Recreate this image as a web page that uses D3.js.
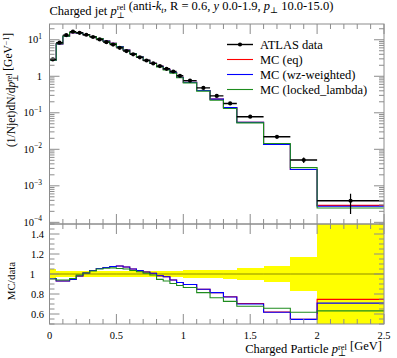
<!DOCTYPE html>
<html><head><meta charset="utf-8">
<script src="https://cdn.jsdelivr.net/npm/d3@7"></script>
<style>
body{margin:0;background:#fff;}
svg{display:block;font-family:"Liberation Serif","DejaVu Serif",serif;}
</style></head>
<body><svg id="c" width="397" height="358"></svg>
<script>
// ---- data ----
const binEdges = [0,0.05,0.1,0.15,0.2,0.25,0.3,0.35,0.4,0.45,0.5,0.55,0.6,0.65,0.7,0.75,0.8,0.85,0.9,0.95,1.0,1.1,1.2,1.3,1.4,1.6,1.8,2.0,2.5];
const dataVals = [2.9,8.3,13.4,16.6,15.5,13.7,11.9,10.2,8.6,7.4,6.0,4.9,4.0,3.3,2.7,2.25,1.9,1.6,1.35,1.03,0.76,0.48,0.29,0.18,0.078,0.022,0.0051,0.00039];
const dataErr  = [0.15,0.25,0.40,0.50,0.47,0.41,0.36,0.31,0.26,0.22,0.18,0.15,0.12,0.10,0.081,0.068,0.057,0.048,0.041,0.036,0.030,0.019,0.012,0.0081,0.0043,0.0018,0.00087,0.00022];
const ratioEq     = [0.955,0.93,0.93,0.945,0.98,1.01,1.035,1.055,1.065,1.075,1.08,1.07,1.05,1.034,1.02,1.007,0.983,0.973,0.94,0.915,0.895,0.848,0.814,0.772,0.705,0.62,0.548,0.746];
const ratioWz     = [0.955,0.93,0.93,0.945,0.98,1.01,1.035,1.055,1.065,1.075,1.08,1.07,1.05,1.034,1.02,1.007,0.983,0.973,0.94,0.915,0.895,0.848,0.814,0.77,0.70,0.617,0.546,0.709];
const ratioLocked = [0.95,0.94,0.94,0.955,0.99,1.01,1.03,1.05,1.057,1.061,1.055,1.05,1.035,1.023,1.007,0.99,0.946,0.93,0.905,0.885,0.865,0.814,0.763,0.726,0.678,0.658,0.617,0.631];
const series = [
  {name:"MC (eq)", ratio:ratioEq, color:"#ff0000"},
  {name:"MC (wz-weighted)", ratio:ratioWz, color:"#0000ff"},
  {name:"MC (locked_lambda)", ratio:ratioLocked, color:"#1e8c1e"}
];
const xTicksMajor = [0,0.5,1,1.5,2,2.5];
const xTickLabels = ["0","0.5","1","1.5","2","2.5"];
const ratioTicks = [0.6,0.8,1.0,1.2,1.4];
const ratioTickLabels = ["0.6","0.8","1","1.2","1.4"];
const logDecades = [-4,-3,-2,-1,0,1];

// ---- layout ----
const svg = d3.select("#c");
const L=49.5, R=384, T=24, M=224, B=324;
const x = d3.scaleLinear().domain([0,2.5]).range([L,R]);
const y = d3.scaleLog().domain([9e-5,27]).range([M,T]);
const yr = d3.scaleLinear().domain([0.5,1.5]).range([B,M]);
const frame="#8c8c8c";
const fs=10.5;

const defs=svg.append("defs");
defs.append("clipPath").attr("id","cm").append("rect").attr("x",L).attr("y",T).attr("width",R-L).attr("height",M-T);
defs.append("clipPath").attr("id","cr").append("rect").attr("x",L).attr("y",M).attr("width",R-L).attr("height",B-M);

const bins = dataVals.map((v,i)=>({x0:binEdges[i],x1:binEdges[i+1],v,e:dataErr[i],xc:(binEdges[i]+binEdges[i+1])/2}));

function stepPath(vals, ys){
  let p="";
  vals.forEach((v,i)=>{
    const X0=x(binEdges[i]), X1=x(binEdges[i+1]), Y=ys(v);
    p += (i===0? "M"+X0+","+Y : "L"+X0+","+Y) + "L"+X1+","+Y;
  });
  return p;
}

// ---- ratio panel ----
const gr = svg.append("g").attr("clip-path","url(#cr)");
gr.selectAll("rect.band").data(bins).join("rect")
  .attr("x",d=>x(d.x0)).attr("width",d=>x(d.x1)-x(d.x0))
  .attr("y",d=>yr(1+d.e/d.v)).attr("height",d=>yr(1-d.e/d.v)-yr(1+d.e/d.v))
  .attr("fill","#ffff00").attr("shape-rendering","crispEdges");
gr.selectAll("line.one").data(bins).join("line")
  .attr("x1",d=>x(d.x0)).attr("x2",d=>x(d.x1)).attr("y1",yr(1)).attr("y2",yr(1))
  .attr("stroke","#000").attr("stroke-opacity",0.45).attr("stroke-width",1);
series.forEach(s=>{
  gr.append("path").attr("d",stepPath(s.ratio,yr)).attr("fill","none")
    .attr("stroke",s.color).attr("stroke-width",1.1);
});

// ---- main panel ----
const gm = svg.append("g").attr("clip-path","url(#cm)");
series.forEach(s=>{
  const mc = dataVals.map((v,i)=>v*s.ratio[i]);
  gm.append("path").attr("d",stepPath(mc,y)).attr("fill","none")
    .attr("stroke",s.color).attr("stroke-width",1.1);
});
gm.selectAll("line.xe").data(bins).join("line")
  .attr("x1",d=>x(d.x0)).attr("x2",d=>x(d.x1)).attr("y1",d=>y(d.v)).attr("y2",d=>y(d.v))
  .attr("stroke","#000").attr("stroke-width",1.4);
gm.selectAll("line.ye").data(bins).join("line")
  .attr("x1",d=>x(d.xc)).attr("x2",d=>x(d.xc)).attr("y1",d=>y(Math.max(d.v-d.e,1e-6))).attr("y2",d=>y(d.v+d.e))
  .attr("stroke","#000").attr("stroke-width",1.2);
gm.selectAll("circle").data(bins).join("circle")
  .attr("cx",d=>x(d.xc)).attr("cy",d=>y(d.v)).attr("r",2.1).attr("fill","#000");

// ---- frames and ticks ----
const ax = svg.append("g").attr("stroke",frame).attr("stroke-width",1).attr("fill","none");
ax.append("rect").attr("x",L).attr("y",T).attr("width",R-L).attr("height",M-T);
ax.append("rect").attr("x",L).attr("y",M).attr("width",R-L).attr("height",B-M);
const xMinor = d3.range(0,26).map(i=>i/10);
function xticks(yy, dir){
  xMinor.forEach(t=>{
    const maj = xTicksMajor.some(m=>Math.abs(m-t)<1e-9);
    const len = maj?10:5;
    ax.append("line").attr("x1",x(t)).attr("x2",x(t)).attr("y1",yy).attr("y2",yy+dir*len);
  });
}
xticks(T,1); xticks(M,-1); xticks(M,1); xticks(B,-1);
// log y ticks
logDecades.forEach(k=>{
  for(let m=1;m<=9;m++){
    const v=m*Math.pow(10,k);
    if(v<9e-5||v>27) continue;
    const len=m===1?10:5;
    ax.append("line").attr("x1",L).attr("x2",L+len).attr("y1",y(v)).attr("y2",y(v));
    ax.append("line").attr("x1",R).attr("x2",R-len).attr("y1",y(v)).attr("y2",y(v));
  }
});
// ratio y ticks
d3.range(10,31).map(i=>i*0.05).forEach(t=>{
  const maj = ratioTicks.some(m=>Math.abs(m-t)<1e-9);
  const len=maj?10:5;
  ax.append("line").attr("x1",L).attr("x2",L+len).attr("y1",yr(t)).attr("y2",yr(t));
  ax.append("line").attr("x1",R).attr("x2",R-len).attr("y1",yr(t)).attr("y2",yr(t));
});

// ---- tick labels ----
const tl = svg.append("g").attr("font-size",fs).attr("fill","#000");
xTicksMajor.forEach((t,i)=>{
  tl.append("text").attr("x",x(t)).attr("y",338.5).attr("text-anchor","middle").text(xTickLabels[i]);
});
logDecades.forEach(k=>{
  const t = tl.append("text").attr("x",42).attr("y",y(Math.pow(10,k))+3.5).attr("text-anchor","end");
  if(k===0){ t.text("1"); }
  else {
    t.append("tspan").text("10");
    t.append("tspan").attr("font-size",7.5).attr("dy",-4.5).text(k<0?"\u2212"+(-k):String(k));
  }
});
ratioTicks.forEach((t,i)=>{
  const lab=ratioTickLabels[i];
  tl.append("text").attr("x",lab==="1"?35:44).attr("y",yr(t)+3.5).attr("text-anchor","end").text(lab);
});

// helper for p_perp^rel
function pperp(t, f, base, sup, sub, raise){
  raise = raise||0.62;
  t.append("tspan").attr("font-style","italic").text(base);
  const s = t.append("tspan").attr("font-size",f*0.68).attr("dy",f*0.26).text(sub);
  const w = s.node().getComputedTextLength();
  t.append("tspan").attr("font-size",f*0.68).attr("dx",-w).attr("dy",-f*raise).text(sup);
  t.append("tspan").attr("dy",f*(raise-0.26)).text("");
}

// title
const tfs=12.5;
const title = svg.append("text").attr("x",L).attr("y",14.5).attr("font-size",tfs);
title.append("tspan").text("Charged jet ");
pperp(title,tfs,"p","rel","\u22a5");
title.append("tspan").text(" (anti-");
title.append("tspan").attr("font-style","italic").text("k");
title.append("tspan").attr("font-style","italic").attr("font-size",tfs*0.68).attr("dy",2.5).text("t");
title.append("tspan").attr("dy",-2.5).text(", R = 0.6, ");
title.append("tspan").attr("font-style","italic").text("y");
title.append("tspan").text(" 0.0-1.9, ");
title.append("tspan").attr("font-style","italic").text("p");
title.append("tspan").attr("font-size",tfs*0.68).attr("dy",3).text("\u22a5");
title.append("tspan").attr("dy",-3).text(" 10.0-15.0)");

// x label
const xfs=12.5;
const xl = svg.append("text").attr("x",382).attr("y",352.5).attr("font-size",xfs).attr("text-anchor","end");
xl.append("tspan").text("Charged Particle ");
pperp(xl,xfs,"p","rel","\u22a5",0.5);
xl.append("tspan").text(" [GeV]");

// y label main
const yfs=11.5;
const yl = svg.append("text").attr("transform","translate(15,90) rotate(-90)").attr("font-size",yfs).attr("text-anchor","middle");
yl.append("tspan").text("(1/Njet)dN/d");
pperp(yl,yfs,"p","rel","\u22a5",0.5);
yl.append("tspan").text(" [GeV");
yl.append("tspan").attr("font-size",yfs*0.68).attr("dy",-3.5).text("\u22121");
yl.append("tspan").attr("dy",3.5).text("]");

// y label ratio
svg.append("text").attr("transform","translate(15,281) rotate(-90)").attr("font-size",11).attr("text-anchor","middle").text("MC/data");

// legend
const lfs=12.5;
const leg = svg.append("g");
const legItems = [{name:"ATLAS data",color:"#000",data:true}].concat(series);
legItems.forEach((it,i)=>{
  const yy = 44.5 + i*15;
  leg.append("line").attr("x1",227).attr("x2",253).attr("y1",yy).attr("y2",yy)
    .attr("stroke",it.color).attr("stroke-width",it.data?1.4:1.1);
  if(it.data) leg.append("circle").attr("cx",240).attr("cy",yy).attr("r",2.1).attr("fill","#000");
  leg.append("text").attr("x",260).attr("y",yy+4).attr("font-size",lfs).text(it.name);
});
</script></body></html>
